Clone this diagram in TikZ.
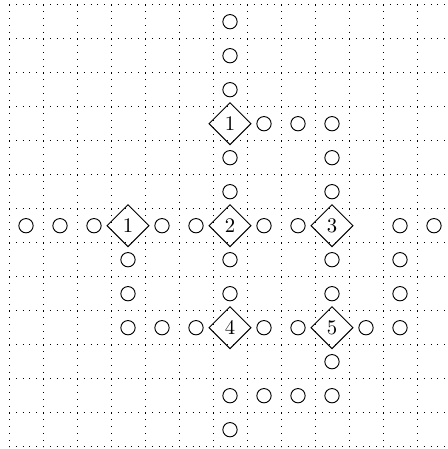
\documentclass[tikz,border=0pt]{standalone}
\usetikzlibrary{shapes.geometric}

\begin{document}
\begin{tikzpicture}[
  x=16.4pt,
  y=16.4pt,
  every node/.style={font=\normalsize},
  gridline/.style={line width=0.4pt, dash pattern=on 0.4pt off 2.88pt},
  site/.style={circle, draw, line width=0.45pt, minimum size=6.9pt, inner sep=0pt},
  hub/.style={diamond, draw, line width=0.45pt, aspect=1, minimum size=20.4pt, inner sep=0pt}
]
  % ---- bounding box, margins as in the original ----
  \useasboundingbox (-0.765,-12.568) rectangle (12.382,0.638);

  % ---- dotted grid, lines between the cells ----
  \foreach \gx in {-0.5,0.5,...,11.5}
    \draw[gridline] (\gx,0.5) -- (\gx,-12.5);
  \foreach \gy in {0.5,-0.5,...,-12.5}
    \draw[gridline] (-0.5,\gy) -- (12.382,\gy);

  % ---- numbered diamonds ----
  \node[hub] (hubA) at (6,-3) {1};
  \node[hub] (hubB) at (3,-6) {1};
  \node[hub] (hubC) at (6,-6) {2};
  \node[hub] (hubD) at (9,-6) {3};
  \node[hub] (hubE) at (6,-9) {4};
  \node[hub] (hubF) at (9,-9) {5};

  % ---- circles, column/row ----
  \foreach \c/\r in {6/0, 6/1, 6/2,
                     7/3, 8/3, 9/3,
                     6/4, 9/4,
                     6/5, 9/5,
                     0/6, 1/6, 2/6, 4/6, 5/6, 7/6, 8/6, 11/6, 12/6,
                     3/7, 6/7, 9/7, 11/7,
                     3/8, 6/8, 9/8, 11/8,
                     3/9, 4/9, 5/9, 7/9, 8/9, 10/9, 11/9,
                     9/10,
                     6/11, 7/11, 8/11, 9/11,
                     6/12}
    \node[site] (s-\c-\r) at (\c,-\r) {};
\end{tikzpicture}
\end{document}
